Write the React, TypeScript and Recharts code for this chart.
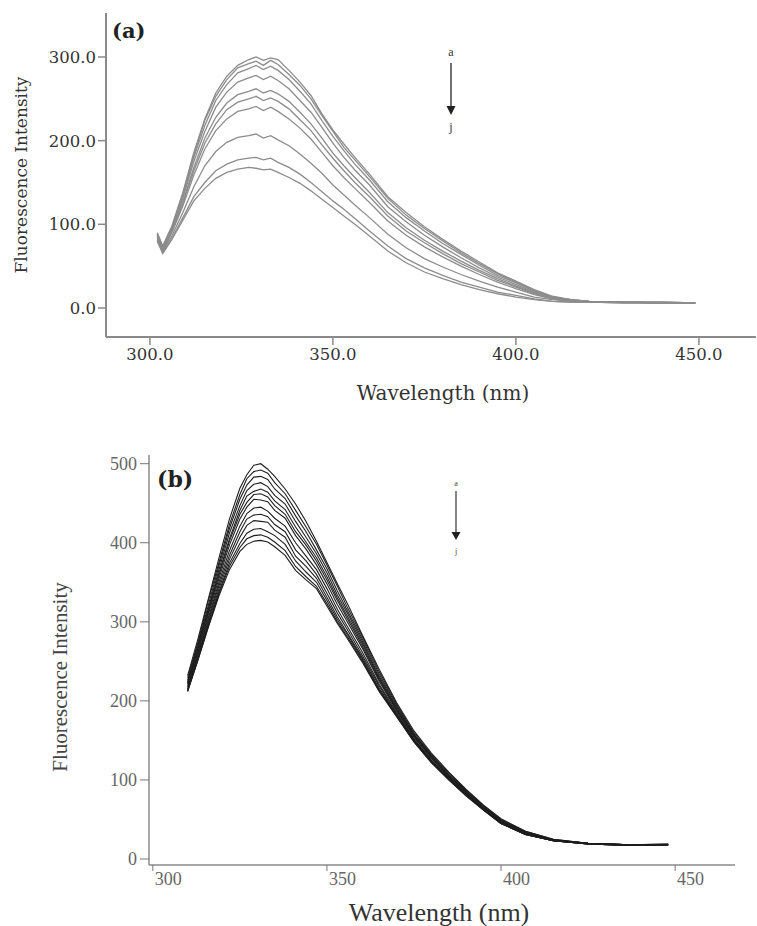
import { Line, LineChart, XAxis, YAxis } from 'recharts'

// Panel (a): wavelength grid and the ten emission curves a..j (grey)
const WL_A = [302, 303.5, 306, 309, 312, 315, 318, 321, 324, 327, 329, 331, 333, 335, 338, 341, 344, 347, 350, 353, 356, 360, 365, 370, 375, 380, 385, 390, 395, 400, 405, 410, 415, 420, 430, 440, 449]

const A_a = [90, 74, 98, 138, 186, 226, 257, 277, 290, 297, 300, 296, 299, 297, 284, 270, 254, 232, 213, 196, 180, 160, 133, 114, 97, 82, 68, 55, 42, 32, 22, 14, 10, 8, 7, 7, 6]
const A_b = [89, 73, 96, 136, 183, 224, 253, 273, 287, 292, 295, 290, 296, 291, 279, 266, 250, 230, 211, 192, 177, 157, 131, 111, 95, 80, 66, 53, 41, 31, 21, 13, 10, 8, 7, 7, 6]
const A_c = [88, 72, 95, 134, 180, 218, 248, 267, 281, 286, 290, 285, 289, 284, 273, 259, 244, 224, 205, 188, 172, 153, 127, 108, 92, 77, 64, 51, 39, 30, 20, 13, 10, 8, 7, 7, 6]
const A_d = [87, 71, 93, 131, 175, 211, 240, 258, 270, 275, 278, 273, 277, 272, 262, 248, 234, 216, 197, 180, 165, 147, 121, 103, 87, 73, 60, 48, 37, 28, 19, 12, 9, 8, 7, 6, 6]
const A_e = [86, 70, 92, 127, 168, 203, 228, 245, 255, 259, 262, 257, 260, 256, 247, 234, 220, 203, 185, 170, 156, 138, 114, 96, 81, 68, 56, 45, 35, 26, 18, 12, 9, 8, 7, 6, 6]
const A_f = [85, 69, 91, 125, 164, 197, 220, 237, 246, 250, 253, 248, 251, 247, 238, 225, 212, 195, 179, 164, 150, 133, 110, 92, 78, 65, 53, 43, 33, 25, 17, 11, 9, 8, 7, 6, 6]
const A_g = [84, 68, 90, 122, 159, 190, 212, 226, 235, 238, 241, 236, 240, 235, 226, 215, 202, 186, 170, 156, 143, 126, 104, 87, 73, 61, 50, 40, 31, 23, 16, 11, 8, 7, 7, 6, 6]
const A_h = [82, 67, 86, 114, 145, 170, 187, 198, 204, 206, 208, 203, 206, 201, 194, 184, 173, 161, 147, 135, 123, 108, 88, 72, 59, 49, 40, 32, 25, 19, 13, 10, 8, 7, 6, 6, 6]
const A_i = [81, 66, 83, 108, 133, 150, 164, 172, 177, 179, 180, 177, 179, 174, 168, 160, 150, 139, 128, 118, 107, 92, 74, 59, 48, 39, 31, 25, 19, 15, 11, 8, 7, 7, 6, 6, 6]
const A_j = [80, 65, 82, 105, 128, 143, 155, 162, 166, 168, 167, 165, 166, 162, 156, 149, 140, 130, 120, 110, 100, 86, 68, 54, 43, 35, 28, 22, 17, 13, 10, 8, 7, 7, 6, 6, 6]

// Panel (b): wavelength grid and thirteen curves (black)
const WL_B = [310, 313, 316, 319, 322, 325, 327, 329, 331, 333, 335, 338, 341, 344, 347, 350, 353, 356, 360, 365, 370, 375, 380, 385, 390, 395, 400, 407, 415, 425, 437, 448]

const B_a = [232, 279, 330, 381, 430, 469, 486, 498, 500, 493, 484, 468, 449, 427, 402, 375, 348, 322, 285, 240, 198, 162, 134, 110, 88, 68, 51, 35, 25, 20, 18, 19]
const B_b = [229, 275, 328, 375, 423, 461, 481, 490, 492, 488, 476, 462, 441, 420, 398, 372, 345, 317, 283, 237, 196, 160, 132, 109, 87, 67, 50, 35, 25, 20, 18, 19]
const B_c = [226, 272, 322, 371, 418, 455, 473, 483, 484, 480, 468, 456, 434, 414, 391, 367, 339, 313, 280, 234, 194, 158, 131, 107, 86, 66, 49, 34, 24, 20, 18, 18]
const B_d = [224, 270, 318, 366, 412, 447, 466, 474, 476, 471, 460, 449, 427, 407, 386, 362, 334, 310, 277, 231, 192, 157, 130, 106, 85, 65, 48, 34, 24, 20, 18, 18]
const B_e = [222, 268, 316, 362, 405, 441, 459, 465, 468, 464, 453, 442, 420, 401, 381, 357, 330, 306, 274, 229, 190, 156, 129, 105, 84, 65, 48, 33, 24, 20, 18, 18]
const B_f = [221, 266, 313, 359, 402, 436, 451, 461, 462, 458, 447, 436, 414, 397, 377, 353, 327, 303, 271, 227, 189, 155, 128, 105, 84, 64, 47, 33, 24, 20, 18, 18]
const B_g = [219, 263, 310, 355, 397, 430, 445, 455, 454, 452, 441, 431, 409, 392, 372, 348, 322, 299, 268, 225, 188, 154, 127, 104, 83, 64, 47, 33, 24, 20, 18, 18]
const B_h = [217, 261, 306, 350, 390, 421, 437, 444, 445, 440, 431, 421, 400, 383, 366, 342, 316, 293, 263, 221, 186, 152, 125, 103, 82, 63, 46, 32, 23, 19, 18, 18]
const B_i = [215, 258, 303, 346, 384, 414, 430, 435, 436, 433, 423, 414, 391, 377, 360, 336, 311, 289, 259, 219, 184, 151, 124, 102, 81, 63, 46, 32, 23, 19, 17, 18]
const B_j = [214, 256, 300, 342, 379, 407, 422, 428, 427, 426, 416, 407, 383, 370, 355, 331, 306, 285, 256, 216, 183, 150, 123, 101, 81, 62, 45, 31, 23, 19, 17, 18]
const B_k = [213, 254, 297, 338, 374, 399, 412, 417, 418, 414, 409, 398, 377, 363, 350, 327, 303, 283, 254, 214, 182, 149, 123, 101, 80, 62, 45, 31, 23, 19, 17, 18]
const B_l = [212, 253, 295, 336, 370, 394, 405, 409, 410, 407, 401, 390, 370, 357, 345, 323, 300, 280, 252, 213, 181, 148, 122, 100, 80, 62, 45, 31, 23, 19, 17, 18]
const B_m = [212, 252, 294, 333, 366, 389, 398, 402, 403, 401, 395, 384, 365, 353, 342, 320, 298, 278, 250, 212, 180, 148, 122, 100, 80, 62, 45, 31, 23, 19, 17, 18]

const X_TICKS = [300, 350, 400, 450]
const Y_TICKS_A = [0, 100, 200, 300]
const Y_TICKS_B = [0, 100, 200, 300, 400, 500]

const SERIES_A = [A_a, A_b, A_c, A_d, A_e, A_f, A_g, A_h, A_i, A_j]
const SERIES_B = [B_a, B_b, B_c, B_d, B_e, B_f, B_g, B_h, B_i, B_j, B_k, B_l, B_m]

function toRows(wl: number[], series: number[][]) {
  return wl.map((w, i) => {
    const row: Record<string, number> = { wl: w }
    series.forEach((s, k) => {
      row['s' + k] = s[i]
    })
    return row
  })
}

const rowsA = toRows(WL_A, SERIES_A)
const rowsB = toRows(WL_B, SERIES_B)

const SERIF_WIDE = '"DejaVu Serif", serif'
const SERIF = '"Liberation Serif", "Times New Roman", serif'

const borderA = { stroke: '#8a8a8a', strokeWidth: 2 }
const borderB = { stroke: '#8a8a8a', strokeWidth: 1.5 }

function StartTick(props: any) {
  const { x, y, payload } = props
  return (
    <text x={x + 2} y={y} dy="0.71em" textAnchor="start" fill="#666" fontSize={18} fontFamily={SERIF}>
      {payload.value}
    </text>
  )
}

function PanelA() {
  const domX: [number, number] = [288, 465.6]
  return (
    <LineChart width={757} height={430} data={rowsA} margin={{ top: 13, right: 1, bottom: 0, left: 0 }}>
      <XAxis
        dataKey="wl"
        type="number"
        domain={domX}
        ticks={X_TICKS}
        allowDataOverflow
        height={93}
        tickSize={8}
        tickMargin={3}
        tickFormatter={(v: number) => v.toFixed(1)}
        tick={{ fill: '#333', fontSize: 16.5, fontFamily: SERIF_WIDE }}
        axisLine={borderA}
        tickLine={{ stroke: '#8a8a8a', strokeWidth: 1.5 }}
      />
      <XAxis xAxisId="top" orientation="top" type="number" domain={domX} height={0} tick={false} tickLine={false} axisLine={borderA} />
      <YAxis
        type="number"
        domain={[-34.7, 352.6]}
        ticks={Y_TICKS_A}
        allowDataOverflow
        width={106}
        tickSize={8}
        tickMargin={2}
        tickFormatter={(v: number) => v.toFixed(1)}
        tick={{ fill: '#333', fontSize: 16.5, fontFamily: SERIF_WIDE }}
        axisLine={borderA}
        tickLine={{ stroke: '#8a8a8a', strokeWidth: 1.5 }}
      />
      <YAxis yAxisId="right" orientation="right" type="number" domain={[0, 1]} width={0} tick={false} tickLine={false} axisLine={borderA} />
      {SERIES_A.map((_, k) => (
        <Line
          key={k}
          type="linear"
          dataKey={'s' + k}
          stroke="#8c8c8c"
          strokeWidth={1.3}
          dot={false}
          isAnimationActive={false}
        />
      ))}
    </LineChart>
  )
}

function PanelB() {
  const domX: [number, number] = [298.9, 467.2]
  return (
    <LineChart width={757} height={496} data={rowsB} margin={{ top: 25, right: 22, bottom: 0, left: 0 }}>
      <XAxis
        dataKey="wl"
        type="number"
        domain={domX}
        ticks={X_TICKS}
        allowDataOverflow
        height={61}
        tickSize={6}
        tickMargin={1}
        tick={StartTick}
        axisLine={borderB}
        tickLine={{ stroke: '#777' }}
      />
      <XAxis xAxisId="top" orientation="top" type="number" domain={domX} height={0} tick={false} tickLine={false} axisLine={borderB} />
      <YAxis
        type="number"
        domain={[-7.6, 511]}
        ticks={Y_TICKS_B}
        allowDataOverflow
        width={149}
        tickSize={9}
        tickMargin={3}
        tick={{ fill: '#666', fontSize: 18, fontFamily: SERIF }}
        axisLine={borderB}
        tickLine={{ stroke: '#777' }}
      />
      <YAxis yAxisId="right" orientation="right" type="number" domain={[0, 1]} width={0} tick={false} tickLine={false} axisLine={borderB} />
      {SERIES_B.map((_, k) => (
        <Line
          key={k}
          type="linear"
          dataKey={'s' + k}
          stroke="#1e1e1e"
          strokeWidth={1.1}
          dot={false}
          isAnimationActive={false}
        />
      ))}
    </LineChart>
  )
}

// titles, panel letters and the a -> j arrows
function Overlay() {
  return (
    <svg width={757} height={926} style={{ position: 'absolute', left: 0, top: 0, pointerEvents: 'none' }}>
      <text x={112} y={38} fontFamily={SERIF_WIDE} fontWeight="bold" fontSize={21} fill="#222">(a)</text>
      <text transform="translate(21,175) rotate(-90)" textAnchor="middle" dominantBaseline="central" fontFamily={SERIF_WIDE} fontSize={17} fill="#333">
        Fluorescence Intensity
      </text>
      <text x={443} y={400} textAnchor="middle" fontFamily={SERIF_WIDE} fontSize={20} fill="#333">Wavelength (nm)</text>
      <text x={451} y={56} textAnchor="middle" fontFamily={SERIF} fontSize={12} fill="#333">a</text>
      <line x1={451} y1={63} x2={451} y2={108} stroke="#222" strokeWidth={1.3} />
      <polygon points="446.5,106 455.5,106 451,115" fill="#222" />
      <text x={451} y={131} textAnchor="middle" fontFamily={SERIF} fontSize={12} fill="#333">j</text>

      <text x={157} y={487} fontFamily={SERIF_WIDE} fontWeight="bold" fontSize={22} fill="#222">(b)</text>
      <text transform="translate(60,677) rotate(-90)" textAnchor="middle" dominantBaseline="central" fontFamily={SERIF} fontSize={21} fill="#444">
        Fluorescence Intensity
      </text>
      <text x={439} y={921} textAnchor="middle" fontFamily={SERIF} fontSize={26} fill="#333">Wavelength (nm)</text>
      <text x={456} y={486} textAnchor="middle" fontFamily={SERIF} fontSize={8} fill="#444">a</text>
      <line x1={456} y1={491} x2={456} y2={534} stroke="#333" strokeWidth={1.2} />
      <polygon points="451.5,532 460.5,532 456,540" fill="#222" />
      <text x={456} y={554} textAnchor="middle" fontFamily={SERIF} fontSize={8} fill="#444">j</text>
    </svg>
  )
}

export default function App() {
  return (
    <div style={{ position: 'absolute', left: 0, top: 0, width: 757, height: 926, background: '#fff' }}>
      <div style={{ position: 'absolute', left: 0, top: 0 }}>
        <PanelA />
      </div>
      <div style={{ position: 'absolute', left: 0, top: 430 }}>
        <PanelB />
      </div>
      <Overlay />
    </div>
  )
}
